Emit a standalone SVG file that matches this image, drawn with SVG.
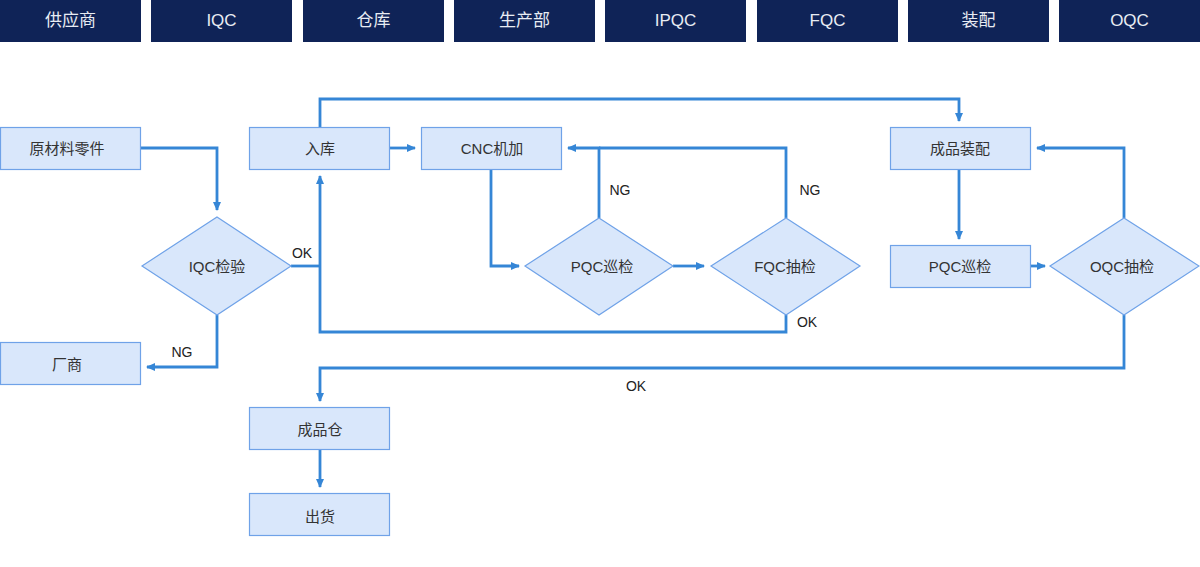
<svg xmlns="http://www.w3.org/2000/svg" width="1200" height="567" viewBox="0 0 1200 567">
<defs>
<style>
.hd{fill:#0f2357}
.ht{fill:#e8ecf3;font-family:"Liberation Sans","Noto Sans CJK SC",sans-serif;font-size:17px;text-anchor:middle;dominant-baseline:central}
.bx{fill:#d9e7fb;stroke:#6fa2e8;stroke-width:1.2}
.t{fill:#333;font-family:"Liberation Sans","Noto Sans CJK SC",sans-serif;font-size:15px;text-anchor:middle;dominant-baseline:central}
.lb{fill:#222;font-family:"Liberation Sans","Noto Sans CJK SC",sans-serif;font-size:14px;text-anchor:middle;dominant-baseline:central}
.c{fill:none;stroke:#3586d6;stroke-width:2.8}
</style>
<marker id="a" markerUnits="userSpaceOnUse" markerWidth="10" markerHeight="10" viewBox="0 0 10 10" refX="8" refY="5" orient="auto">
<path d="M0,1 L9,5 L0,9 Z" fill="#3586d6"/>
</marker>
</defs>
<rect width="1200" height="567" fill="#fff"/>
<g id="header">
<rect class="hd" x="0" y="0" width="141" height="42"/><text class="ht" x="70.5" y="20">供应商</text>
<rect class="hd" x="151" y="0" width="141" height="42"/><text class="ht" x="221.5" y="20">IQC</text>
<rect class="hd" x="303" y="0" width="141" height="42"/><text class="ht" x="373.5" y="20">仓库</text>
<rect class="hd" x="454" y="0" width="141" height="42"/><text class="ht" x="524.5" y="20">生产部</text>
<rect class="hd" x="605" y="0" width="141" height="42"/><text class="ht" x="675.5" y="20">IPQC</text>
<rect class="hd" x="757" y="0" width="141" height="42"/><text class="ht" x="827.5" y="20">FQC</text>
<rect class="hd" x="908" y="0" width="141" height="42"/><text class="ht" x="978.5" y="20">装配</text>
<rect class="hd" x="1059" y="0" width="141" height="42"/><text class="ht" x="1129.5" y="20">OQC</text>
</g>
<g id="connectors">
<path class="c" d="M140,148 H217 V210" marker-end="url(#a)"/>
<path class="c" d="M291,266 H320"/>
<path class="c" d="M786,315 V332 H320 V176" marker-end="url(#a)"/>
<path class="c" d="M217,315 V367 H147" marker-end="url(#a)"/>
<path class="c" d="M320,127 V99 H959 V121" marker-end="url(#a)"/>
<path class="c" d="M389,148 H415" marker-end="url(#a)"/>
<path class="c" d="M491,169 V266 H519" marker-end="url(#a)"/>
<path class="c" d="M599,218 V148 H568" marker-end="url(#a)"/>
<path class="c" d="M786,218 V148 H599"/>
<path class="c" d="M673,266 H704" marker-end="url(#a)"/>
<path class="c" d="M959,169 V239" marker-end="url(#a)"/>
<path class="c" d="M1030,266 H1045" marker-end="url(#a)"/>
<path class="c" d="M1124,218 V148 H1037" marker-end="url(#a)"/>
<path class="c" d="M1124,315 V368 H320 V401" marker-end="url(#a)"/>
<path class="c" d="M320,449 V487" marker-end="url(#a)"/>
<text class="lb" x="302" y="253">OK</text>
<text class="lb" x="182" y="352">NG</text>
<text class="lb" x="620" y="190">NG</text>
<text class="lb" x="810" y="190">NG</text>
<text class="lb" x="807" y="322">OK</text>
<text class="lb" x="636" y="386">OK</text>
</g>
<g id="n-raw"><rect class="bx" x="0.5" y="127.5" width="140" height="42"/><text class="t" x="67" y="148">原材料零件</text></g>
<g id="n-in"><rect class="bx" x="249.5" y="127.5" width="140" height="42"/><text class="t" x="320" y="148">入库</text></g>
<g id="n-cnc"><rect class="bx" x="421.5" y="127.5" width="140" height="42"/><text class="t" x="492" y="148">CNC机加</text></g>
<g id="n-asm"><rect class="bx" x="890.5" y="127.5" width="140" height="42"/><text class="t" x="960" y="148">成品装配</text></g>
<g id="n-pqc2"><rect class="bx" x="890.5" y="245.5" width="140" height="42"/><text class="t" x="960" y="266">PQC巡检</text></g>
<g id="n-vendor"><rect class="bx" x="0.5" y="342.5" width="140" height="42"/><text class="t" x="67" y="364">厂商</text></g>
<g id="n-fg"><rect class="bx" x="249.5" y="407.5" width="140" height="42"/><text class="t" x="320" y="429">成品仓</text></g>
<g id="n-ship"><rect class="bx" x="249.5" y="493.5" width="140" height="42"/><text class="t" x="320" y="516">出货</text></g>
<g id="d-iqc"><path class="bx" d="M217,217 L291,266 L217,315 L142,266 Z"/><text class="t" x="217" y="266">IQC检验</text></g>
<g id="d-pqc"><path class="bx" d="M599,218 L673,266 L599,315 L525,266 Z"/><text class="t" x="602" y="266">PQC巡检</text></g>
<g id="d-fqc"><path class="bx" d="M786,218 L860,266 L786,315 L711,266 Z"/><text class="t" x="785" y="266">FQC抽检</text></g>
<g id="d-oqc"><path class="bx" d="M1124,218 L1199,266 L1124,315 L1050,266 Z"/><text class="t" x="1122" y="266">OQC抽检</text></g>
</svg>
